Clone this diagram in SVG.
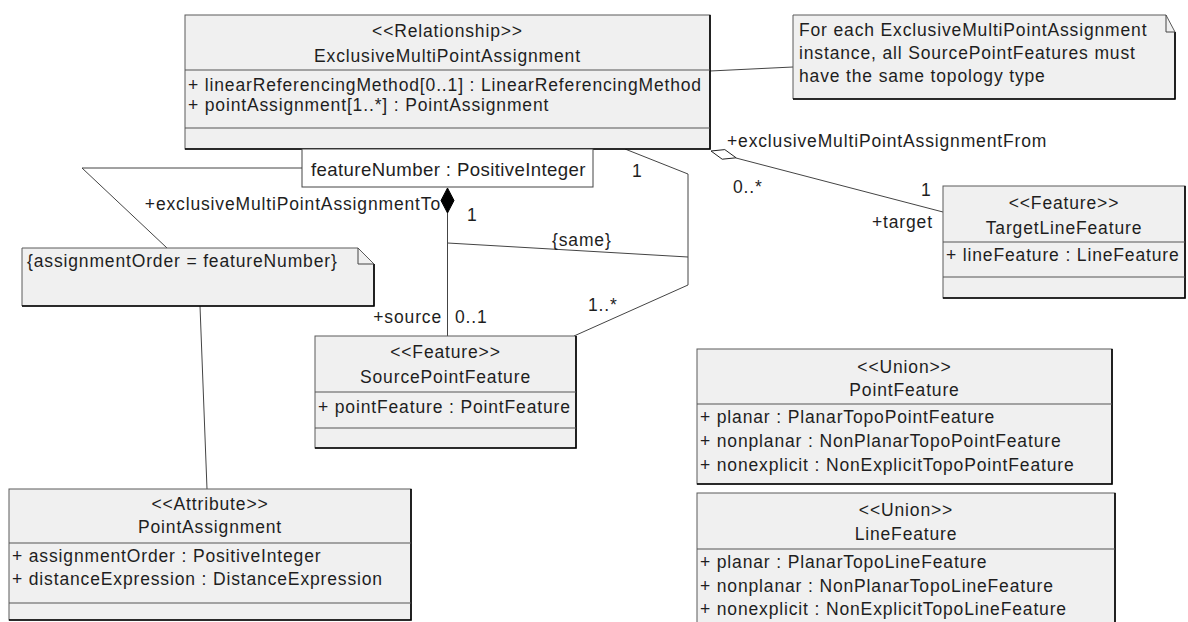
<svg xmlns="http://www.w3.org/2000/svg" width="1188" height="622" viewBox="0 0 1188 622">
<style>
.box{fill:#f0f0f0;stroke:#5a5a5a;stroke-width:1}
.sh{fill:none;stroke:#000;stroke-width:1.6}
.dv{stroke:#555;stroke-width:1}
.t{font-family:"Liberation Sans",Arial,sans-serif;font-size:17.5px;letter-spacing:0.85px;fill:#1e1e1e}
.c{text-anchor:middle}
.e{text-anchor:end}
.con{fill:none;stroke:#444;stroke-width:1}
</style>
<rect width="1188" height="622" fill="#fff"/>
<g id="connectors">
<polyline class="con" points="302,168 82,168 167,248"/>
<line class="con" x1="200" y1="306" x2="207" y2="489"/>
<line class="con" x1="710" y1="71" x2="793" y2="67"/>
<line class="con" x1="736" y1="158" x2="943" y2="212"/>
<polygon points="711,151 724.8,149.6 736.1,157.8 722.2,159.2" fill="#fff" stroke="#222" stroke-width="1"/>
<line class="con" x1="447.5" y1="213" x2="447.5" y2="336"/>
<polygon points="447.5,188 454,200.5 447.5,213 441,200.5" fill="#000" stroke="#000" stroke-width="1"/>
<polyline class="con" points="625,149 688,174 688,285 574,336"/>
<line class="con" x1="447.5" y1="243" x2="688" y2="257"/>
<text class="t" x="727" y="147">+exclusiveMultiPointAssignmentFrom</text>
<text class="t" x="733" y="193">0..*</text>
<text class="t" x="921" y="196">1</text>
<text class="t" x="872" y="228">+target</text>
<text class="t e" x="441" y="210">+exclusiveMultiPointAssignmentTo</text>
<text class="t" x="467" y="221">1</text>
<text class="t" x="552" y="246">{same}</text>
<text class="t" x="632" y="177">1</text>
<text class="t" x="588" y="311">1..*</text>
<text class="t e" x="442" y="323">+source</text>
<text class="t" x="455" y="323">0..1</text>
</g>
<g id="ExclusiveMultiPointAssignment">
<rect class="box" x="185" y="15" width="525" height="134"/>
<polyline class="sh" points="710,15 710,149 185,149"/>
<line class="dv" x1="185" y1="70" x2="710" y2="70"/>
<line class="dv" x1="185" y1="128" x2="710" y2="128"/>
<text class="t c" x="447.5" y="37">&lt;&lt;Relationship&gt;&gt;</text>
<text class="t c" x="447.5" y="62">ExclusiveMultiPointAssignment</text>
<text class="t" x="188" y="91">+ linearReferencingMethod[0..1] : LinearReferencingMethod</text>
<text class="t" x="188" y="111">+ pointAssignment[1..*] : PointAssignment</text>
</g>
<g id="qualifier">
<rect x="302" y="149" width="291" height="38" fill="#fff" stroke="#444" stroke-width="1"/>
<text class="t" x="311" y="176" style="font-size:18.6px;letter-spacing:0.4px">featureNumber : PositiveInteger</text>
</g>
<g id="note-topology">
<polygon class="box" points="793,15 1166,15 1175,32 1175,99 793,99"/>
<polyline class="sh" points="1175,32 1175,99 793,99"/>
<polyline class="con" points="1166,15 1166,32 1175,32"/>
<text class="t" x="799" y="36">For each ExclusiveMultiPointAssignment</text>
<text class="t" x="799" y="59">instance, all SourcePointFeatures must</text>
<text class="t" x="799" y="82">have the same topology type</text>
</g>
<g id="TargetLineFeature">
<rect class="box" x="943" y="186" width="242" height="112"/>
<polyline class="sh" points="1185,186 1185,298 943,298"/>
<line class="dv" x1="943" y1="242" x2="1185" y2="242"/>
<line class="dv" x1="943" y1="277" x2="1185" y2="277"/>
<text class="t c" x="1064" y="209">&lt;&lt;Feature&gt;&gt;</text>
<text class="t c" x="1064" y="234">TargetLineFeature</text>
<text class="t" x="946" y="261">+ lineFeature : LineFeature</text>
</g>
<g id="SourcePointFeature">
<rect class="box" x="315" y="336" width="261" height="112"/>
<polyline class="sh" points="576,336 576,448 315,448"/>
<line class="dv" x1="315" y1="392" x2="576" y2="392"/>
<line class="dv" x1="315" y1="428" x2="576" y2="428"/>
<text class="t c" x="445.5" y="358">&lt;&lt;Feature&gt;&gt;</text>
<text class="t c" x="445.5" y="383">SourcePointFeature</text>
<text class="t" x="318" y="413">+ pointFeature : PointFeature</text>
</g>
<g id="note-order">
<polygon class="box" points="22,248 358,248 374,264 374,306 22,306"/>
<polyline class="sh" points="374,264 374,306 22,306"/>
<polyline class="con" points="358,248 358,264 374,264"/>
<text class="t" x="27" y="267">{assignmentOrder = featureNumber}</text>
</g>
<g id="PointAssignment">
<rect class="box" x="9" y="489" width="402" height="131"/>
<polyline class="sh" points="411,489 411,620 9,620"/>
<line class="dv" x1="9" y1="543" x2="411" y2="543"/>
<line class="dv" x1="9" y1="603" x2="411" y2="603"/>
<text class="t c" x="210" y="510">&lt;&lt;Attribute&gt;&gt;</text>
<text class="t c" x="210" y="533">PointAssignment</text>
<text class="t" x="12" y="562">+ assignmentOrder : PositiveInteger</text>
<text class="t" x="12" y="585">+ distanceExpression : DistanceExpression</text>
</g>
<g id="PointFeature">
<rect class="box" x="697" y="349" width="415" height="135"/>
<polyline class="sh" points="1112,349 1112,484 697,484"/>
<line class="dv" x1="697" y1="404" x2="1112" y2="404"/>
<text class="t c" x="904.5" y="373">&lt;&lt;Union&gt;&gt;</text>
<text class="t c" x="904.5" y="396">PointFeature</text>
<text class="t" x="700" y="423">+ planar : PlanarTopoPointFeature</text>
<text class="t" x="700" y="447">+ nonplanar : NonPlanarTopoPointFeature</text>
<text class="t" x="700" y="471">+ nonexplicit : NonExplicitTopoPointFeature</text>
</g>
<g id="LineFeature">
<rect class="box" x="697" y="493" width="418" height="140"/>
<polyline class="sh" points="1115,493 1115,633"/>
<line class="dv" x1="697" y1="549" x2="1115" y2="549"/>
<text class="t c" x="906" y="516">&lt;&lt;Union&gt;&gt;</text>
<text class="t c" x="906" y="540">LineFeature</text>
<text class="t" x="700" y="568">+ planar : PlanarTopoLineFeature</text>
<text class="t" x="700" y="592">+ nonplanar : NonPlanarTopoLineFeature</text>
<text class="t" x="700" y="615">+ nonexplicit : NonExplicitTopoLineFeature</text>
</g>
</svg>
